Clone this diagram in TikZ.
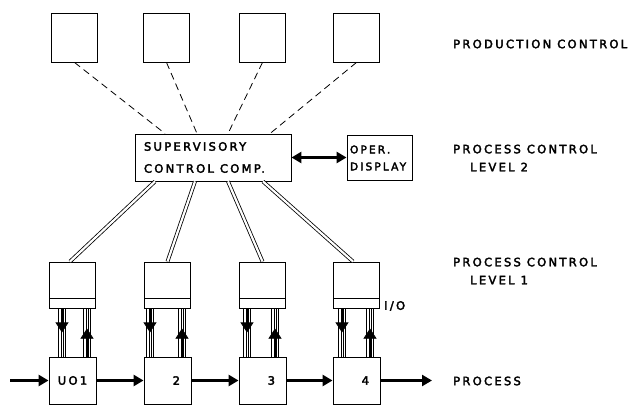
\documentclass[tikz,border=0pt]{standalone}
\usepackage{fontspec}
\setmainfont{DejaVu Sans}[LetterSpace=20, FakeBold=3]
\newcommand{\gap}{\hspace*{6pt}}
\usetikzlibrary{arrows.meta}

\begin{document}
\begin{tikzpicture}[x=1pt, y=-1pt, >=Stealth,
  every node/.style={font=\fontsize{11.5}{18}\selectfont},
  box/.style={draw, line width=0.9pt, inner sep=0pt},
  prodbox/.style={box, minimum width=46pt, minimum height=49pt},
  iobox/.style={box, minimum width=46pt, minimum height=46pt,
    path picture={\draw[line width=0.9pt] ([yshift=10pt]path picture bounding box.south west) -- ([yshift=10pt]path picture bounding box.south east);}},
  unitbox/.style={box, minimum width=47pt, minimum height=47pt, inner xsep=11pt, text width=25pt, align=right},
  supbox/.style={box, minimum height=47pt, inner xsep=9pt, text width=138pt, align=left, font=\fontsize{11.5}{22}\selectfont},
  operbox/.style={box, minimum height=45pt, inner xsep=3pt, text width=59pt, align=left, font=\fontsize{10.6}{17}\selectfont},
  level/.style={anchor=west, align=left, inner sep=0pt},
  dashline/.style={line width=0.8pt, dash pattern=on 7pt off 4.5pt},
  link/.style={double, line width=0.8pt, double distance=2.2pt},
  wire/.style={line width=0.6pt},
  head/.style={line width=0.6pt, -{Triangle[width=13pt,length=10pt]}},
  flow/.style={line width=3.4pt, -{Triangle[width=11pt,length=10pt]}}]
\path[use as bounding box] (0,0) rectangle (632,406);

% production control
\node[prodbox] (prod1) at (74.5,37.5) {};
\node[prodbox] (prod2) at (166.5,37.5) {};
\node[prodbox] (prod3) at (262.5,37.5) {};
\node[prodbox] (prod4) at (356.5,37.5) {};

% level 2
\node[supbox] (sup) at (213,157.5) {SUPERVISORY\\CONTROL\gap COMP.};
\node[operbox] (oper) at (379.5,158) {OPER.\\DISPLAY};

% level 1
\node[iobox] (io1) at (72.5,285) {};
\node[iobox] (io2) at (167.5,285) {};
\node[iobox] (io3) at (262.5,285) {};
\node[iobox] (io4) at (356.5,285) {};
\node[anchor=west, inner sep=0pt] (iolbl) at (384,306) {I/O};

% process
\node[unitbox, align=center, inner xsep=8pt, text width=31pt] (uo1) at (72.5,380.5) {UO1};
\node[unitbox] (uo2) at (167.5,380.5) {2};
\node[unitbox] (uo3) at (262.5,380.5) {3};
\node[unitbox] (uo4) at (356.5,380.5) {4};
\coordinate (in) at (10,380.5);
\coordinate (out) at (432,380.5);

% right hand labels
\node[level] (lprod) at (453,44) {PRODUCTION\gap CONTROL};
\node[level] (llev2) at (453,158) {PROCESS\gap CONTROL\\\hspace*{17pt}LEVEL\gap 2};
\node[level] (llev1) at (453,271) {PROCESS\gap CONTROL\\\hspace*{17pt}LEVEL\gap 1};
\node[level] (lproc) at (453,381) {PROCESS};

\path[dashline] (prod1.south) edge ([xshift=-48pt]sup.north)
                (prod2.south) edge ([xshift=-16pt]sup.north)
                (prod3.south) edge ([xshift=15pt]sup.north)
                (prod4.south) edge ([xshift=57pt]sup.north);

\draw[line width=3.4pt, {Triangle[width=11pt,length=10pt]}-{Triangle[width=11pt,length=10pt]}] (sup.east) -- (sup.east -| oper.west);

\draw[link] ([xshift=-58pt]sup.south) -- ([xshift=-2.5pt]io1.north);
\draw[link] ([xshift=-18pt]sup.south) -- (io2.north);
\draw[link] ([xshift=15pt]sup.south) -- (io3.north);
\draw[link] ([xshift=50pt]sup.south) -- ([xshift=-3.5pt]io4.north);

\foreach \i/\dn/\up in {1/-10.5/14.5, 2/-17.5/14.5, 3/-15.5/12.5, 4/-14.5/13.5} {
  \foreach \k in {-3.3,-1.1,1.1,3.3} {
    \draw[wire] ([xshift={(\dn+\k)*1pt}]io\i.south) -- ([xshift={(\dn+\k)*1pt}]uo\i.north);
    \draw[wire] ([xshift={(\up+\k)*1pt}]io\i.south) -- ([xshift={(\up+\k)*1pt}]uo\i.north);
  }
  \draw[head] ([xshift=\dn pt]io\i.south) -- ([xshift=\dn pt, yshift=-24pt]io\i.south);
  \draw[head] ([xshift=\up pt]uo\i.north) -- ([xshift=\up pt, yshift=28pt]uo\i.north);
}

\draw[flow] (in) -- (uo1.west);
\draw[flow] (uo1.east) -- (uo2.west);
\draw[flow] (uo2.east) -- (uo3.west);
\draw[flow] (uo3.east) -- (uo4.west);
\draw[flow] (uo4.east) -- (out);
\end{tikzpicture}
\end{document}
